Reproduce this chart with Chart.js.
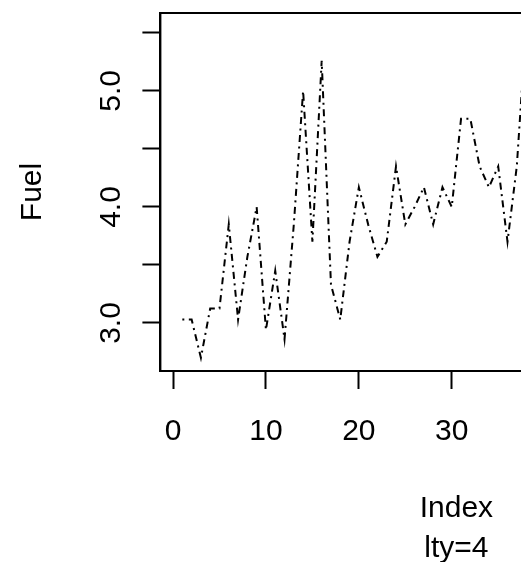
<!DOCTYPE html>
<html lang="en">
<head>
  <meta charset="UTF-8">
  <title>Fuel - lty=4</title>
  <style>
    html, body {
      margin: 0;
      padding: 0;
      background: #fff;
      overflow: hidden;
    }
    #wrap {
      width: 800px;
      height: 570px;
    }
  </style>
</head>
<body>

<div id="wrap"><canvas id="fuelChart" width="800" height="570"></canvas></div>

<script src="https://cdn.jsdelivr.net/npm/chart.js"></script>
<script>
  // Fuel by index (only the part that shows inside the picture)
  const fuel = [
    3.03, 3.03, 2.70, 3.125, 3.125, 3.85, 3.03, 3.57, 4.00, 2.94,
    3.45, 2.86, 3.85, 5.00, 3.70, 5.26, 3.33, 3.03, 3.70, 4.17,
    3.85, 3.57, 3.70, 4.35, 3.85, 4.00, 4.17, 3.85, 4.17, 4.00,
    4.76, 4.76, 4.35, 4.17, 4.35, 3.70, 4.35, 5.56
  ];
  const yLabelled = [3.0, 4.0, 5.0];
  const xTitle = ['Index', 'lty=4'];
  const yTitle = 'Fuel';

  const points = fuel.map((v, i) => ({ x: i + 1, y: v }));

  const FONT = "'Liberation Sans', Arial, sans-serif";

  // R-style box round the plot region
  const boxPlugin = {
    id: 'box',
    afterDraw(chart) {
      const a = chart.chartArea;
      const ctx = chart.ctx;
      ctx.save();
      ctx.strokeStyle = '#000';
      ctx.lineWidth = 2;
      ctx.strokeRect(a.left, a.top, a.right - a.left, a.bottom - a.top);
      ctx.restore();
    }
  };

  new Chart(document.getElementById('fuelChart'), {
    type: 'line',
    data: {
      datasets: [{
        data: points,
        borderColor: '#000',
        borderWidth: 2,
        borderDash: [2, 4.5, 7, 4.5],
        borderCapStyle: 'butt',
        pointRadius: 0,
        tension: 0,
        fill: false
      }]
    },
    options: {
      responsive: false,
      animation: false,
      devicePixelRatio: 1,
      layout: {
        padding: { left: 0, top: 13, right: 47.6, bottom: 0 }
      },
      plugins: {
        legend: { display: false },
        tooltip: { enabled: false }
      },
      scales: {
        x: {
          type: 'linear',
          min: -1.36,
          max: 62.36,
          afterFit(scale) {
            scale.height = 199;
            scale.paddingLeft = 0;
            scale.paddingRight = 0;
          },
          grid: {
            drawOnChartArea: false,
            drawTicks: true,
            tickLength: 18,
            tickWidth: 2,
            tickColor: '#000'
          },
          border: { display: true, color: '#000', width: 2 },
          ticks: {
            stepSize: 10,
            includeBounds: false,
            autoSkip: false,
            maxRotation: 0,
            padding: 25,
            color: '#000',
            font: { family: FONT, size: 30 },
            callback: v => String(v)
          },
          title: {
            display: true,
            text: xTitle,
            color: '#000',
            font: { family: FONT, size: 30, lineHeight: '40px' },
            padding: { top: 0, bottom: 1 }
          }
        },
        y: {
          min: 2.586,
          max: 5.672,
          afterFit(scale) {
            scale.width = 160.4;
            scale.paddingTop = 0;
            scale.paddingBottom = 0;
          },
          grid: {
            drawOnChartArea: false,
            drawTicks: true,
            tickLength: 18,
            tickWidth: 2,
            tickColor: '#000'
          },
          border: { display: true, color: '#000', width: 2 },
          ticks: {
            stepSize: 0.5,
            includeBounds: false,
            autoSkip: false,
            minRotation: 90,
            maxRotation: 90,
            crossAlign: 'center',
            padding: 10,
            color: '#000',
            font: { family: FONT, size: 30 },
            callback: v => yLabelled.some(t => Math.abs(t - v) < 1e-6) ? v.toFixed(1) : ''
          },
          title: {
            display: true,
            text: yTitle,
            color: '#000',
            font: { family: FONT, size: 30, lineHeight: '36px' },
            padding: { top: 15, bottom: 0 }
          }
        }
      }
    },
    plugins: [boxPlugin]
  });
</script>

</body>
</html>
